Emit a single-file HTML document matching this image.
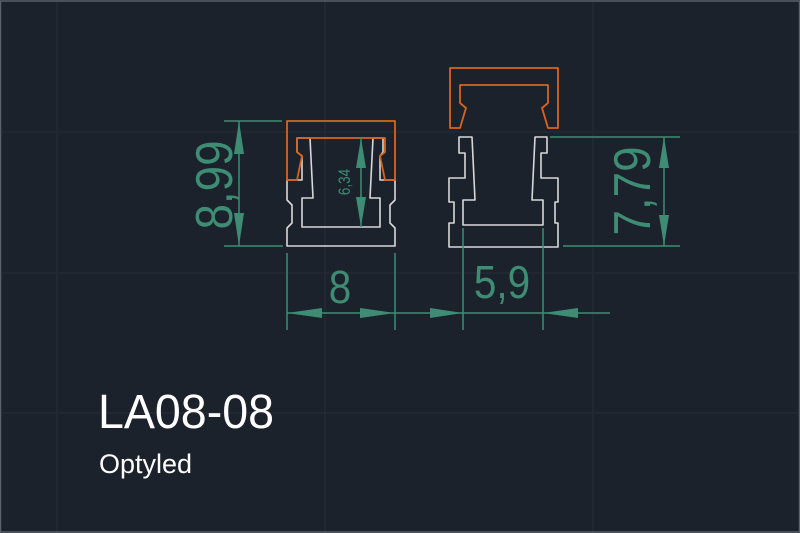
<!DOCTYPE html>
<html><head><meta charset="utf-8"><style>
html,body{margin:0;padding:0;background:#1c222c;}
svg{display:block}
</style></head><body>
<svg width="800" height="533" viewBox="0 0 800 533" xmlns="http://www.w3.org/2000/svg">
<rect x="0" y="0" width="800" height="533" fill="#1c222c"/>
<g stroke="#262d38" stroke-width="1">
<line x1="325" y1="0" x2="325" y2="533"/><line x1="593" y1="0" x2="593" y2="533"/>
<line x1="57" y1="0" x2="57" y2="533"/>
<line x1="0" y1="132" x2="800" y2="132"/><line x1="0" y1="273" x2="800" y2="273"/><line x1="0" y1="413" x2="800" y2="413"/>
</g>
<rect x="0.5" y="1" width="799" height="531" fill="none" stroke="#5a6068" stroke-width="1.5"/>
<g fill="none" stroke="#d8d8d8" stroke-width="1.6" stroke-linejoin="round">
<path d="M297,138 L310,138 L313,198 L302,198 L302,227 L380,227 L380,198 L370,198 L373,138 L383,138 L383,152 L380,156 L380,180 L395,180 L395,200 L390,205 L390,223 L395,228 L395,246 L287,246 L287,228 L292,223 L292,205 L287,200 L287,180 L302,180 L302,156 L297,152 Z"/>
<path d="M459,137 L472,137 L475,200 L463,200 L463,225 L543,225 L543,200 L532,200 L535,137 L547,137 L547,153 L541,153 L541,178 L558,178 L558,202 L555,202 L555,223 L558,223 L558,247 L449,247 L449,223 L454,223 L454,202 L449,202 L449,178 L465,178 L465,153 L459,153 Z"/>
</g>
<g fill="none" stroke="#d8641e" stroke-width="1.8" stroke-linejoin="round">
<path d="M287,180 L287,121 L395,121 L395,180 L385,180 L380,156 L385,152 L385,138 L297,138 L297,152 L302,156 L297,180 Z"/>
<path d="M450,128 L450,68 L558,68 L558,128 L548,128 L542,108 L548,103 L548,85 L460,85 L460,103 L466,108 L460,128 Z"/>
</g>
<g stroke="#3d8c73" stroke-width="1.5" fill="none">
<line x1="224" y1="121" x2="282" y2="121"/><line x1="224" y1="246" x2="283" y2="246"/>
<line x1="239" y1="121" x2="239" y2="246"/>
<line x1="361" y1="138" x2="361" y2="227"/>
<line x1="550" y1="137" x2="680" y2="137"/><line x1="563" y1="246" x2="680" y2="246"/>
<line x1="664" y1="137" x2="664" y2="246"/>
<line x1="287" y1="253" x2="287" y2="330"/><line x1="395" y1="253" x2="395" y2="330"/>
<line x1="463" y1="228" x2="463" y2="330"/><line x1="543" y1="228" x2="543" y2="330"/>
<line x1="287" y1="313" x2="610" y2="313"/>
</g>
<g fill="#3d8c73">
<polygon points="239,121 234,154 244,154"/><polygon points="239,246 234,213 244,213"/>
<polygon points="361,138 356,168 366,168"/><polygon points="361,227 356,197 366,197"/>
<polygon points="664,137 659,168 669,168"/><polygon points="664,246 659,215 669,215"/>
<polygon points="287,313 322,308 322,318"/><polygon points="395,313 360,308 360,318"/>
<polygon points="463,313 430,308 430,318"/><polygon points="543,313 578,308 578,318"/>
</g>
<g fill="#3d8c73" font-family="Liberation Sans, sans-serif" text-anchor="middle">
<text transform="translate(232,185) rotate(-90) scale(0.88,1)" font-size="52">8,99</text>
<text transform="translate(350,182) rotate(-90) scale(0.9,1.1)" font-size="15">6,34</text>
<text transform="translate(650,191) rotate(-90) scale(0.88,1)" font-size="52">7,79</text>
<text transform="translate(340,303) scale(0.88,1)" font-size="46">8</text>
<text transform="translate(502,298) scale(0.88,1)" font-size="46">5,9</text>
</g>
<text transform="translate(98,428) scale(0.97,1)" fill="#ffffff" font-family="Liberation Sans, sans-serif" font-size="48">LA08-08</text>
<text transform="translate(99,473)" fill="#ffffff" font-family="Liberation Sans, sans-serif" font-size="27">Optyled</text>
</svg>
</body></html>
